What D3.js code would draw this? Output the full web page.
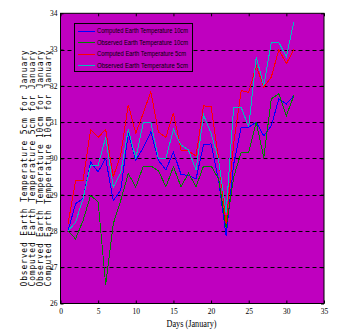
<!DOCTYPE html>
<html>
<head>
<meta charset="utf-8">
<script src="https://cdn.jsdelivr.net/npm/d3@7"></script>
<style>
  body { margin: 0; background: #fff; }
  svg { display: block; }
</style>
</head>
<body>
<svg id="chart"></svg>
<script>
let plotBg = "#BF00BF";
let blue = "#0000FF";
let green = "#008000";
let red = "#FF0000";
let cyan = "#00BFBF";

const days = [1, 2, 3, 4, 5, 6, 7, 8, 9, 10, 11, 12, 13, 14, 15, 16,
  17, 18, 19, 20, 21, 22, 23, 24, 25, 26, 27, 28, 29, 30, 31];

// computed earth temperature 10cm
const computed10 = [28.0, 28.75, 28.89, 29.9, 29.63, 30.0, 28.84, 29.12, 30.69, 29.95,
  30.3, 30.73, 29.95, 29.68, 30.18, 29.56, 29.53, 29.43, 30.37, 30.4,
  29.4, 27.86, 29.84, 30.86, 30.86, 31.0, 30.62, 30.9, 31.64, 31.5, 31.73];

// observed earth temperature 10cm
const observed10 = [28.0, 27.78, 28.29, 28.98, 28.8, 26.52, 28.19, 28.84, 29.58, 29.21,
  29.79, 29.79, 29.66, 29.22, 29.77, 29.22, 29.59, 29.22, 29.79, 29.79,
  29.44, 28.08, 29.48, 30.17, 30.17, 30.99, 30.02, 31.64, 31.78, 31.18, 31.73];

// computed earth temperature 5cm
const computed5 = [28.2, 29.38, 29.4, 30.79, 30.58, 30.8, 29.49, 30.1, 31.48, 30.69,
  31.25, 31.84, 30.73, 30.58, 31.26, 30.23, 30.2, 30.07, 31.45, 31.42,
  30.0, 28.18, 30.4, 31.87, 31.82, 32.56, 31.96, 32.24, 33.0, 32.61, 33.0];

// observed earth temperature 5cm
const observed5 = [28.0, 28.24, 28.89, 29.81, 29.81, 30.58, 29.21, 29.6, 30.8, 30.0,
  30.99, 30.99, 30.0, 30.0, 30.8, 30.37, 30.23, 29.68, 31.2, 30.69,
  29.95, 28.5, 31.41, 31.41, 30.86, 32.8, 32.0, 33.2, 33.2, 32.8, 33.77];

const xTicks = [0, 5, 10, 15, 20, 25, 30, 35];
const yTicks = [26, 27, 28, 29, 30, 31, 32, 33, 34];

const seriesNames = [
  "Computed Earth Temperature 10cm",
  "Observed Earth Temperature 10cm",
  "Computed Earth Temperature 5cm",
  "Observed Earth Temperature 5cm"
];
const seriesColors = [blue, green, red, cyan];
const seriesValues = [computed10, observed10, computed5, observed5];

const yTitles = [
  "Observed Earth Temperature 5cm for January",
  "Computed Earth Temperature 5cm for January",
  "Observed Earth Temperature 10cm for January",
  "Computed Earth Temperature 10cm for January"
];

const width = 339;
const height = 336;
const margin = { top: 13.3, right: 15, bottom: 32.5, left: 60.5 };

const svg = d3.select("#chart")
  .attr("width", width)
  .attr("height", height);

const xScale = d3.scaleLinear()
  .domain([0, 35])
  .range([margin.left, width - margin.right]);

const yScale = d3.scaleLinear()
  .domain([26, 34])
  .range([height - margin.bottom, margin.top]);

const x0 = xScale.range()[0], x1 = xScale.range()[1];
const y0 = yScale.range()[1], y1 = yScale.range()[0];

//plot background
svg.append("rect")
  .attr("x", x0).attr("y", y0)
  .attr("width", x1 - x0).attr("height", y1 - y0)
  .attr("fill", plotBg);

//dashed grid
svg.append("g")
  .selectAll("line")
  .data(yTicks.slice(1, -1))
  .join("line")
  .attr("x1", x0).attr("x2", x1)
  .attr("y1", d => Math.round(yScale(d)) + 0.5)
  .attr("y2", d => Math.round(yScale(d)) + 0.5)
  .attr("stroke", "#000")
  .attr("stroke-dasharray", "4,3");

//lines
const line = d3.line()
  .x((d, i) => xScale(days[i]))
  .y(d => yScale(d));

svg.append("g")
  .selectAll("path")
  .data(seriesValues)
  .join("path")
  .attr("d", d => line(d))
  .attr("fill", "none")
  .attr("stroke", (d, i) => seriesColors[i])
  .attr("stroke-width", 1)
  .attr("shape-rendering", "crispEdges");

//axes
const tickFont = "Liberation Serif";

const xAxis = svg.append("g")
  .attr("transform", `translate(0, ${y1})`)
  .call(d3.axisBottom(xScale).tickValues(xTicks).tickSize(-3).tickPadding(5));

svg.append("g")
  .attr("transform", `translate(0, ${y0})`)
  .call(d3.axisTop(xScale).tickValues(xTicks).tickSize(-3).tickFormat(""));

const yAxis = svg.append("g")
  .attr("transform", `translate(${x0}, 0)`)
  .call(d3.axisLeft(yScale).tickValues(yTicks).tickSize(-3).tickPadding(3));

svg.append("g")
  .attr("transform", `translate(${x1}, 0)`)
  .call(d3.axisRight(yScale).tickValues(yTicks).tickSize(-3).tickFormat(""));

svg.selectAll(".domain").remove();
svg.selectAll(".tick line").attr("stroke", "#000");
svg.selectAll(".tick text")
  .attr("fill", "#000")
  .style("font-family", tickFont)
  .style("font-size", "7.5px");

//frame
svg.append("rect")
  .attr("x", x0).attr("y", y0)
  .attr("width", x1 - x0).attr("height", y1 - y0)
  .attr("fill", "none")
  .attr("stroke", "#000");

//x label
svg.append("text")
  .attr("x", 191.5)
  .attr("y", 326.5)
  .attr("text-anchor", "middle")
  .attr("textLength", 50)
  .attr("lengthAdjust", "spacingAndGlyphs")
  .style("font-family", tickFont)
  .style("font-size", "9.5px")
  .text("Days (January)");

//y titles
svg.append("g")
  .selectAll("text")
  .data(yTitles)
  .join("text")
  .attr("transform", (d, i) => `translate(${26.5 + i * 8}, 168.5) rotate(-90)`)
  .attr("text-anchor", "middle")
  .attr("textLength", 236)
  .attr("lengthAdjust", "spacing")
  .style("font-family", "DejaVu Sans Mono")
  .style("font-size", "8px")
  .text(d => d);

//legend
const legend = svg.append("g");

legend.append("rect")
  .attr("x", 74.5).attr("y", 23.5)
  .attr("width", 118).attr("height", 48)
  .attr("fill", plotBg)
  .attr("stroke", "#000");

const legendY = [30.5, 42, 53.5, 65];

legend.selectAll("line")
  .data(seriesNames)
  .join("line")
  .attr("x1", 78).attr("x2", 95)
  .attr("y1", (d, i) => Math.round(legendY[i]) + 0.5)
  .attr("y2", (d, i) => Math.round(legendY[i]) + 0.5)
  .attr("stroke", (d, i) => seriesColors[i]);

legend.selectAll("text")
  .data(seriesNames)
  .join("text")
  .attr("x", 97)
  .attr("y", (d, i) => legendY[i] + 2.8)
  .attr("textLength", (d, i) => i === 2 ? 89 : 91)
  .attr("lengthAdjust", "spacingAndGlyphs")
  .style("font-family", "Liberation Sans")
  .style("font-size", "8px")
  .text(d => d);
</script>
</body>
</html>
